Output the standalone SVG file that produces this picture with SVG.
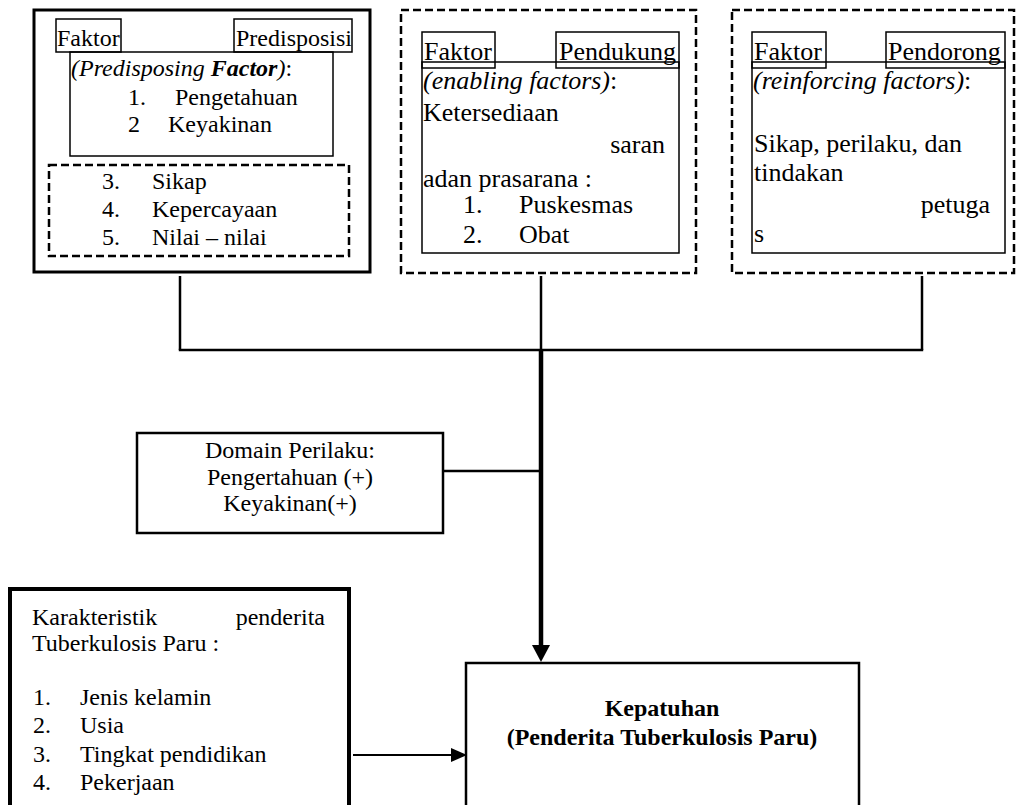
<svg xmlns="http://www.w3.org/2000/svg" width="1017" height="805" viewBox="0 0 1017 805">
<defs>
<style>
text{font-family:"Liberation Serif","Times New Roman",serif;fill:#000}
.t24{font-size:24px}
.t26{font-size:26px}
.b{font-weight:bold}
.i{font-style:italic}
.box{fill:none;stroke:#000;stroke-width:2.5}
.thin{fill:none;stroke:#000;stroke-width:1.5}
.dash{fill:none;stroke:#000;stroke-width:2.5;stroke-dasharray:8 4}
.ln{fill:none;stroke:#000;stroke-width:2.5}
</style>
<marker id="ah" markerWidth="9" markerHeight="9" refX="9" refY="4.5" orient="auto" markerUnits="userSpaceOnUse">
<path d="M0,0 L9,4.5 L0,9 Z" fill="#000"/>
</marker>
</defs>
<rect width="1017" height="805" fill="#fff"/>

<g id="connectors">
<line class="ln" x1="180" y1="276" x2="180" y2="350"/>
<line class="ln" x1="541" y1="276" x2="541" y2="350"/>
<line class="ln" x1="922" y1="276" x2="922" y2="350"/>
<line class="ln" x1="178.8" y1="350" x2="923.2" y2="350"/>
<line x1="541" y1="350" x2="541" y2="648" stroke="#000" stroke-width="4.5"/>
<path d="M532,645 L550,645 L541,662 Z" fill="#000"/>
<line class="ln" x1="443" y1="471" x2="541" y2="471"/>
<line x1="353" y1="755" x2="452" y2="755" stroke="#000" stroke-width="2"/>
<path d="M451,748 L467,755 L451,762 Z" fill="#000"/>
</g>

<g id="predisposing">
<rect x="34" y="10" width="336" height="262" fill="none" stroke="#000" stroke-width="3"/>
<rect class="thin" x="56" y="19" width="65" height="33"/>
<rect class="thin" x="234" y="19" width="118" height="33"/>
<rect class="thin" x="70" y="52" width="263" height="104"/>
<text class="t24" x="57" y="46">Faktor</text>
<text class="t24" x="236" y="46">Predisposisi</text>
<text class="t24" x="71" y="76"><tspan class="i">(Predisposing </tspan><tspan class="i b">Factor</tspan><tspan class="i">)</tspan>:</text>
<text class="t24" x="128" y="105">1.</text>
<text class="t24" x="175" y="105">Pengetahuan</text>
<text class="t24" x="128" y="132">2</text>
<text class="t24" x="168" y="132">Keyakinan</text>
<rect class="dash" x="49" y="165" width="300" height="91"/>
<text class="t24" x="102" y="189">3.</text>
<text class="t24" x="152" y="189">Sikap</text>
<text class="t24" x="102" y="217">4.</text>
<text class="t24" x="152" y="217">Kepercayaan</text>
<text class="t24" x="102" y="245">5.</text>
<text class="t24" x="152" y="245">Nilai – nilai</text>
</g>

<g id="enabling">
<rect class="dash" x="401" y="10" width="295" height="263"/>
<rect class="thin" x="422" y="32" width="73" height="36"/>
<rect class="thin" x="556" y="32" width="123" height="36"/>
<rect class="thin" x="422" y="62" width="257" height="191"/>
<text class="t26" x="424" y="60">Faktor</text>
<text class="t26" x="559" y="60">Pendukung</text>
<text class="t26" x="423" y="89"><tspan class="i">(enabling factors)</tspan>:</text>
<text class="t26" x="423" y="121">Ketersediaan</text>
<text class="t26" x="665" y="153" text-anchor="end">saran</text>
<text class="t26" x="423" y="187">adan prasarana :</text>
<text class="t26" x="463" y="213">1.</text>
<text class="t26" x="519" y="213">Puskesmas</text>
<text class="t26" x="463" y="243">2.</text>
<text class="t26" x="519" y="243">Obat</text>
</g>

<g id="reinforcing">
<rect class="dash" x="732" y="10" width="282" height="263"/>
<rect class="thin" x="752" y="32" width="74" height="36"/>
<rect class="thin" x="886" y="32" width="119" height="36"/>
<rect class="thin" x="752" y="62" width="253" height="191"/>
<text class="t26" x="754" y="60">Faktor</text>
<text class="t26" x="888" y="60">Pendorong</text>
<text class="t26" x="753" y="89"><tspan class="i">(reinforcing factors)</tspan>:</text>
<text class="t26" x="754" y="152">Sikap, perilaku, dan</text>
<text class="t26" x="754" y="181">tindakan</text>
<text class="t26" x="990" y="213" text-anchor="end">petuga</text>
<text class="t26" x="754" y="242">s</text>
</g>

<g id="domain">
<rect class="box" x="137" y="433" width="306" height="100"/>
<text class="t24" x="290" y="458" text-anchor="middle">Domain Perilaku:</text>
<text class="t24" x="290" y="485" text-anchor="middle">Pengertahuan (+)</text>
<text class="t24" x="290" y="511" text-anchor="middle">Keyakinan(+)</text>
</g>

<g id="karakteristik">
<rect x="10" y="589" width="339" height="230" fill="none" stroke="#000" stroke-width="4"/>
<text class="t24" x="32" y="625">Karakteristik</text>
<text class="t24" x="325" y="625" text-anchor="end">penderita</text>
<text class="t24" x="32" y="651">Tuberkulosis Paru :</text>
<text class="t24" x="33" y="705">1.</text>
<text class="t24" x="80" y="705">Jenis kelamin</text>
<text class="t24" x="33" y="733">2.</text>
<text class="t24" x="80" y="733">Usia</text>
<text class="t24" x="33" y="762">3.</text>
<text class="t24" x="80" y="762">Tingkat pendidikan</text>
<text class="t24" x="33" y="790">4.</text>
<text class="t24" x="80" y="790">Pekerjaan</text>
</g>

<g id="kepatuhan">
<rect class="box" x="466" y="663" width="393" height="160"/>
<text class="t24 b" x="662" y="716" text-anchor="middle">Kepatuhan</text>
<text class="t24 b" x="662" y="745" text-anchor="middle">(Penderita Tuberkulosis Paru)</text>
</g>
</svg>
